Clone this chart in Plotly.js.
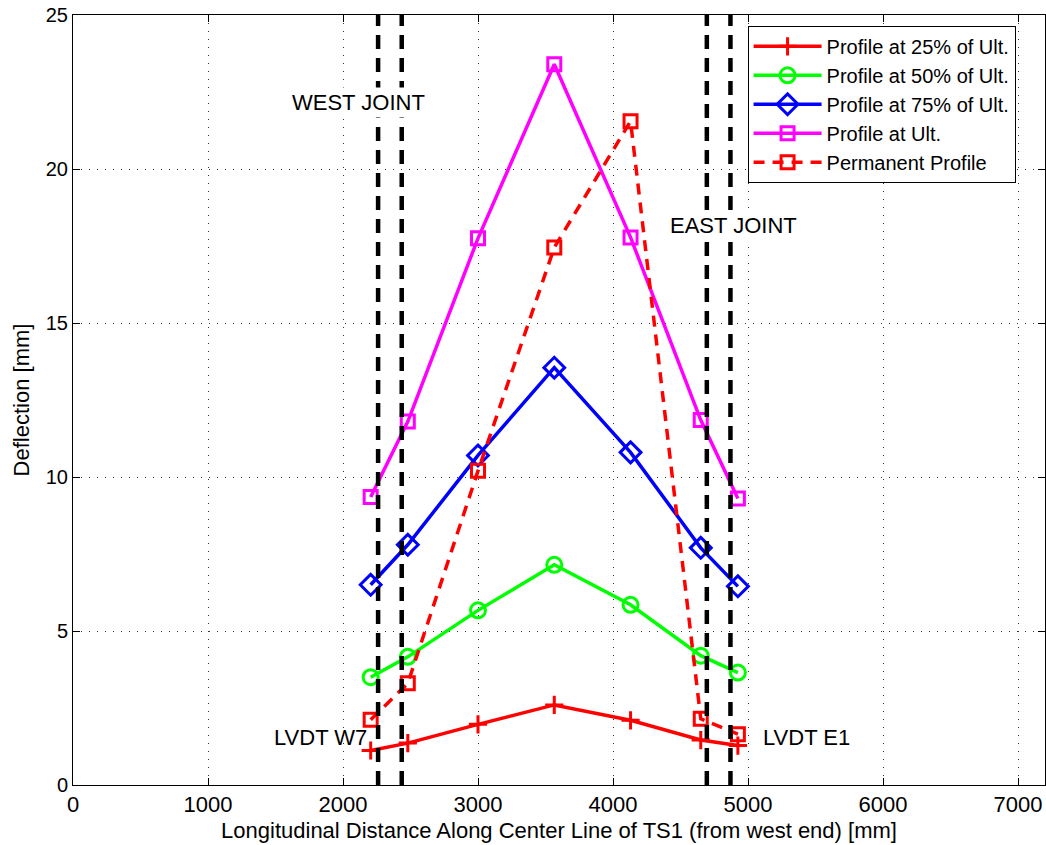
<!DOCTYPE html>
<html>
<head>
<meta charset="utf-8">
<script src="https://cdn.plot.ly/plotly-3.0.1.min.js"></script>
<style>html,body{margin:0;padding:0;background:#fff;}#chart{width:1046px;height:845px;}</style>
</head>
<body>
<div id="chart"></div>
<script>
// Data
const positions = [2205, 2480, 3000, 3565, 4130, 4650, 4925];
const profile25 = [1.12, 1.36, 1.97, 2.6, 2.1, 1.46, 1.28];
const profile50 = [3.5, 4.16, 5.67, 7.15, 5.85, 4.2, 3.65];
const profile75 = [6.5, 7.8, 10.7, 13.55, 10.8, 7.7, 6.45];
const profileUlt = [9.35, 11.8, 17.75, 23.4, 17.78, 11.85, 9.3];
const permanent = [2.12, 3.3, 10.2, 17.45, 21.55, 2.15, 1.65];
const seriesNames = ["Profile at 25% of Ult.", "Profile at 50% of Ult.", "Profile at 75% of Ult.", "Profile at Ult.", "Permanent Profile"];
const jointLines = [2260, 2435, 4695, 4870];
const jointExtent = [0, 25];
const xTicks = [0, 1000, 2000, 3000, 4000, 5000, 6000, 7000];
const yTicks = [0, 5, 10, 15, 20, 25];
const jointLabels = [
  {text: "WEST JOINT", x: 2115, y: 22.17},
  {text: "EAST JOINT", x: 4889, y: 18.18}
];
const sensorLabels = [
  {text: "LVDT W7", x: 1830, y: 1.53},
  {text: "LVDT E1", x: 5430, y: 1.53}
];

const lw = 3.5;
const traces = [
  {x: positions, y: profile25, name: seriesNames[0], mode: "lines+markers",
   line: {color: "#ff0000", width: lw}, marker: {symbol: "cross-thin-open", size: 13, color: "#ff0000", line: {color: "#ff0000", width: 3}}},
  {x: positions, y: profile50, name: seriesNames[1], mode: "lines+markers",
   line: {color: "#00ff00", width: lw}, marker: {symbol: "circle-open", size: 15, color: "#00ff00", line: {color: "#00ff00", width: 3}}},
  {x: positions, y: profile75, name: seriesNames[2], mode: "lines+markers",
   line: {color: "#0000ff", width: lw}, marker: {symbol: "diamond-open", size: 16, color: "#0000ff", line: {color: "#0000ff", width: 3}}},
  {x: positions, y: profileUlt, name: seriesNames[3], mode: "lines+markers",
   line: {color: "#ff00ff", width: lw}, marker: {symbol: "square-open", size: 13, color: "#ff00ff", line: {color: "#ff00ff", width: 3}}},
  {x: positions, y: permanent, name: seriesNames[4], mode: "lines+markers",
   line: {color: "#ff0000", width: lw, dash: "11px,8px"}, marker: {symbol: "square-open", size: 13, color: "#ff0000", line: {color: "#ff0000", width: 3}}}
];
jointLines.forEach(function (jx) {
  traces.push({x: [jx, jx], y: jointExtent, mode: "lines", showlegend: false, hoverinfo: "skip",
    line: {color: "#000000", width: 4.5, dash: "14px,9px"}});
});

const axisCommon = {
  showline: true, linecolor: "#000", linewidth: 1, mirror: "ticks",
  ticks: "inside", ticklen: 7, tickcolor: "#000", tickwidth: 1,
  showgrid: true, gridcolor: "#333", gridwidth: 1, griddash: "1px,7px",
  zeroline: false
};

const annFont = {size: 22, family: "Liberation Sans, Arial"};
const layout = {
  width: 1046, height: 845,
  margin: {l: 73, r: 1, t: 15, b: 60},
  paper_bgcolor: "#fff", plot_bgcolor: "#fff",
  font: {family: "Liberation Sans, Arial, sans-serif", color: "#000", size: 18},
  showlegend: true,
  legend: {x: 0.694, y: 0.986, xanchor: "left", yanchor: "top", bgcolor: "#fff",
    bordercolor: "#000", borderwidth: 1, itemwidth: 68,
    font: {size: 20, family: "Liberation Sans, Arial, sans-serif"},
    tracegroupgap: 0},
  xaxis: Object.assign({}, axisCommon, {
    range: [0, 7200], tickvals: xTicks, ticktext: xTicks.map(String),
    tickfont: {family: "Liberation Sans Narrow, Liberation Sans, Arial", size: 22},
    title: {text: "Longitudinal Distance Along Center Line of TS1 (from west end) [mm]", standoff: 6,
      font: {family: "Liberation Sans Narrow, Liberation Sans, Arial", size: 22}}
  }),
  yaxis: Object.assign({}, axisCommon, {
    range: [0, 25], tickvals: yTicks, ticktext: yTicks.map(String),
    tickfont: {family: "Liberation Sans, Arial", size: 20},
    title: {text: "Deflection [mm]", standoff: 10,
      font: {family: "Liberation Sans Narrow, Liberation Sans, Arial", size: 22}}
  }),
  annotations: jointLabels.map(function (a) {
    return {text: a.text, x: a.x, y: a.y, xref: "x", yref: "y", showarrow: false,
      xanchor: "center", yanchor: "middle", bgcolor: "#fff", borderpad: 2, font: annFont};
  }).concat(sensorLabels.map(function (a) {
    return {text: a.text, x: a.x, y: a.y, xref: "x", yref: "y", showarrow: false,
      xanchor: "center", yanchor: "middle", borderpad: 0, font: annFont};
  }))
};

Plotly.newPlot("chart", traces, layout, {displayModeBar: false, staticPlot: true});
</script>
</body>
</html>
